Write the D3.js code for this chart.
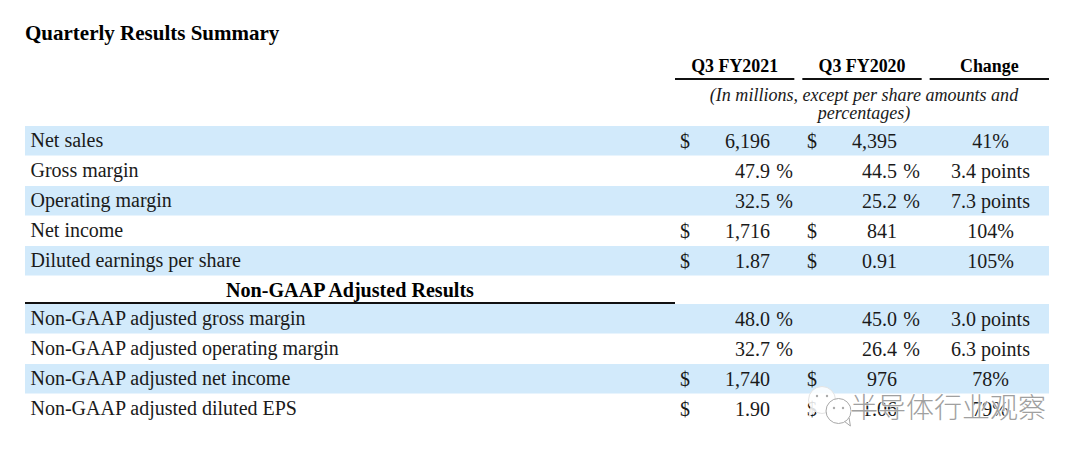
<!DOCTYPE html>
<html>
<head>
<meta charset="utf-8">
<script src="https://cdn.jsdelivr.net/npm/d3@7"></script>
<style>
	html, body { margin: 0; padding: 0; background: #fff; }
	svg { display: block; }
	text { font-family: "Liberation Serif", serif; fill: #1a1a1a; }
	.bold { font-weight: bold; fill: #000; }
</style>
</head>
<body>
<div id="chart"></div>
<script>
const title = "Quarterly Results Summary";
const columns = ["Q3 FY2021", "Q3 FY2020", "Change"];
const unit_note = ["(In millions, except per share amounts and", "percentages)"];
const section_title = "Non-GAAP Adjusted Results";
const watermark = "半导体行业观察";

const gaap_labels = ["Net sales", "Gross margin", "Operating margin", "Net income", "Diluted earnings per share"];
const gaap_fy2021 = ["6,196", "47.9", "32.5", "1,716", "1.87"];
const gaap_fy2020 = ["4,395", "44.5", "25.2", "841", "0.91"];
const gaap_change = ["41%", "3.4 points", "7.3 points", "104%", "105%"];
const gaap_units = ["$", "%", "%", "$", "$"];

const adjusted_labels = ["Non-GAAP adjusted gross margin", "Non-GAAP adjusted operating margin", "Non-GAAP adjusted net income", "Non-GAAP adjusted diluted EPS"];
const adjusted_fy2021 = ["48.0", "32.7", "1,740", "1.90"];
const adjusted_fy2020 = ["45.0", "26.4", "976", "1.06"];
const adjusted_change = ["3.0 points", "6.3 points", "78%", "79%"];
const adjusted_units = ["%", "%", "$", "$"];

const width = 1080, height = 455;
const left = 25, right = 1049;
const band_color = "#d2eafb";
const col_gap = 8;

const svg = d3.select("#chart").append("svg").attr("width", width).attr("height", height);

// one band scale per block of rows, the section header sits between them
const y_gaap = d3.scaleBand().domain(gaap_labels).range([126, 276]);
const y_adjusted = d3.scaleBand().domain(adjusted_labels).range([304, 424]);
const x_col = d3.scaleBand().domain(columns).range([675, right + col_gap]);

function rows(labels, a, b, change, units, y) {
	return labels.map((label, i) => ({
		label, a: a[i], b: b[i], change: change[i], unit: units[i],
		y: y(label), h: y.bandwidth(), shaded: i % 2 == 0
	}));
}

const all_rows = rows(gaap_labels, gaap_fy2021, gaap_fy2020, gaap_change, gaap_units, y_gaap)
	.concat(rows(adjusted_labels, adjusted_fy2021, adjusted_fy2020, adjusted_change, adjusted_units, y_adjusted));

svg.selectAll("rect.band").data(all_rows.filter(d => d.shaded)).enter().append("rect")
	.attr("class", "band")
	.attr("x", left).attr("width", right - left)
	.attr("y", d => d.y).attr("height", d => d.h - 0.5)
	.attr("fill", band_color);

svg.append("text").attr("class", "bold").attr("x", left).attr("y", 40)
	.attr("font-size", 21).text(title);

// column headers + their rules
const col_w = x_col.bandwidth() - col_gap;
svg.selectAll("text.col").data(columns).enter().append("text")
	.attr("class", "col bold")
	.attr("x", d => x_col(d) + col_w / 2).attr("y", 72)
	.attr("text-anchor", "middle").attr("font-size", 17.9).text(d => d);
svg.selectAll("line.col").data(columns).enter().append("line")
	.attr("x1", d => x_col(d)).attr("x2", d => x_col(d) + col_w)
	.attr("y1", 79).attr("y2", 79).attr("stroke", "#111").attr("stroke-width", 2);

svg.selectAll("text.note").data(unit_note).enter().append("text")
	.attr("x", 864).attr("y", (d, i) => 101 + i * 18)
	.attr("text-anchor", "middle").attr("font-style", "italic").attr("font-size", 18.05).text(d => d);

// section header
svg.append("text").attr("class", "bold").attr("x", 350).attr("y", 297)
	.attr("text-anchor", "middle").attr("font-size", 20.1).text(section_title);
svg.append("line").attr("x1", left).attr("x2", 675).attr("y1", 303).attr("y2", 303)
	.attr("stroke", "#111").attr("stroke-width", 2);

const row = svg.selectAll("g.row").data(all_rows).enter().append("g")
	.attr("class", "row")
	.attr("transform", d => `translate(0, ${d.y + d.h / 2 + 6.5})`)
	.attr("font-size", 20);

row.append("text").attr("x", 30.5).attr("y", -1).text(d => d.label);

// $ signs, values, % signs
[["a", 680, 770, 793], ["b", 807, 897, 920]].forEach(([key, dollar_x, num_x, pct_x]) => {
	row.filter(d => d.unit == "$").append("text").attr("x", dollar_x).text("$");
	row.append("text").attr("x", num_x).attr("y", 0.5).attr("text-anchor", "end").text(d => d[key]);
	row.filter(d => d.unit == "%").append("text").attr("x", pct_x).attr("y", 0.5).attr("text-anchor", "end").text("%");
});
row.append("text").attr("x", 990.5).attr("y", 0.5).attr("text-anchor", "middle").text(d => d.change);

// watermark, sits over the last row like in the source image
const mark = svg.append("g").attr("stroke", "#a8a8a8").attr("stroke-width", 1);
function bubble(cx, cy, r, tail) {
	let p = d3.path();
	p.arc(cx, cy, r, 0, 2 * Math.PI);
	p.moveTo(cx + tail * r * 0.5, cy + r * 0.85);
	p.lineTo(cx + tail * r * 0.95, cy + r * 1.2);
	p.lineTo(cx + tail * r * 0.85, cy + r * 0.55);
	return p.toString();
}
mark.append("path").attr("d", bubble(822, 400, 13.5, -1)).attr("fill", "#fff").attr("fill-opacity", 0.85).attr("stroke", "#e4e4e4");
mark.append("path").attr("d", bubble(838.5, 411, 12.5, 1)).attr("fill", "#fff").attr("fill-opacity", 0.9);
const eyes = [[817, 396], [827, 396], [834, 408], [843, 408]];
mark.selectAll("circle").data(eyes).enter().append("circle")
	.attr("cx", d => d[0]).attr("cy", d => d[1]).attr("r", 1.2)
	.attr("fill", "#aaa").attr("stroke", "none");
svg.append("text").attr("x", 850).attr("y", 418)
	.style("font-family", '"Noto Sans CJK SC"').style("fill", "#a0a0a0").style("font-weight", 300)
	.attr("stroke", "#fff").attr("stroke-width", 1.5).attr("stroke-opacity", 0.7).attr("paint-order", "stroke")
	.attr("font-size", 28).text(watermark);
</script>
</body>
</html>
